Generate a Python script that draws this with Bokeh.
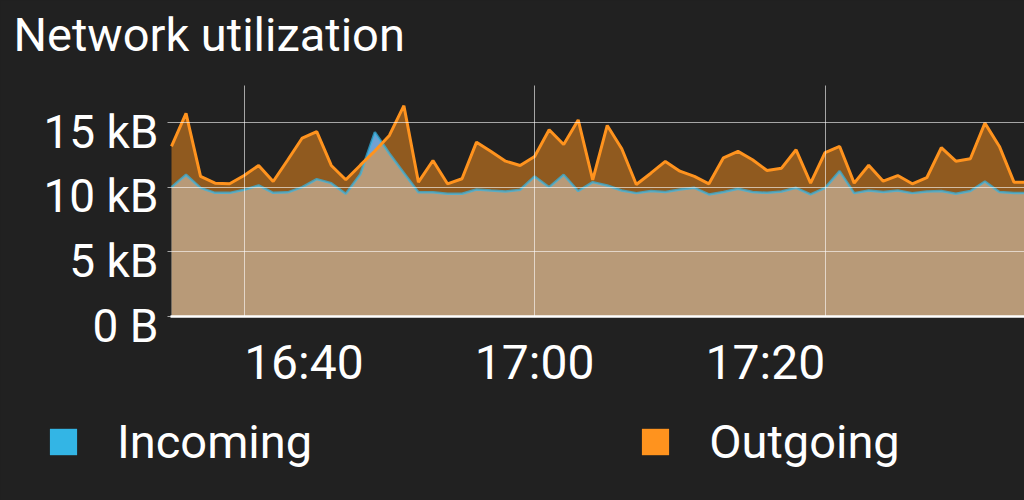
import pandas as pd
from bokeh.plotting import figure
from bokeh.models import (ColumnDataSource, Range1d, FixedTicker, Grid, LabelSet, Label,
                          Legend, LegendItem)
from bokeh.core.properties import value, field
from bokeh.embed import file_html
from bokeh.resources import INLINE

# ---------------- data ----------------
times = pd.date_range("2024-01-01 16:35", periods=60, freq="1min")
incoming_kb = [10.0, 10.96, 9.95, 9.56, 9.56, 9.8, 10.13, 9.56, 9.6, 10.0,
               10.62, 10.31, 9.49, 11.0, 14.25, 12.6, 11.1, 9.6, 9.6, 9.49,
               9.49, 9.82, 9.74, 9.67, 9.8, 10.83, 10.0, 10.96, 9.7, 10.39,
               10.13, 9.74, 9.54, 9.7, 9.62, 9.82, 9.95, 9.44, 9.62, 9.88,
               9.62, 9.56, 9.67, 9.95, 9.44, 9.95, 11.24, 9.54, 9.74, 9.62,
               9.74, 9.54, 9.67, 9.7, 9.49, 9.7, 10.44, 9.62, 9.54, 9.54]
outgoing_kb = [13.15, 15.7, 10.83, 10.31, 10.26, 10.9, 11.68, 10.44, 12.1, 13.8,
               14.3, 11.68, 10.57, 11.7, 12.8, 14.0, 16.3, 10.39, 12.06, 10.26,
               10.65, 13.48, 12.76, 12.01, 11.68, 12.37, 14.44, 13.3, 15.2, 10.57,
               14.77, 12.97, 10.21, 11.08, 11.99, 11.24, 10.83, 10.26, 12.27, 12.77,
               12.12, 11.29, 11.47, 12.89, 10.31, 12.68, 13.15, 10.31, 11.7, 10.46,
               10.9, 10.26, 10.73, 13.05, 12.01, 12.2, 14.95, 13.15, 10.39, 10.39]
y_ticks = [0, 5, 10, 15]
y_tick_labels = ["0 B", "5 kB", "10 kB", "15 kB"]
x_ticks = list(pd.to_datetime(["2024-01-01 16:40", "2024-01-01 17:00", "2024-01-01 17:20"]))
x_tick_labels = ["16:40", "17:00", "17:20"]
x_label_align = ["left", "center", "right"]
series_names = ["Incoming", "Outgoing"]
series_colors = ["#33b5e5", "#ff931e"]
title_text = "Network utilization"

# ---------------- layout / style ----------------
BG = "#212121"
FONT = "Roboto"
TXT = "#ffffff"
W, H = 1024, 500
PLOT_LEFT = 171          # pixel column where the data start
PLOT_TOP = 85            # pixel row where the chart area starts
ZERO_Y = 316             # pixel row of the 0 line
PX_PER_MIN = 14.525
PX_PER_KB = 12.933

def to_ms(t):
    return int((pd.Timestamp(t) - pd.Timestamp("1970-01-01")) // pd.Timedelta("1ms"))

t0 = to_ms(times[0])
ms_per_px = 60000.0 / PX_PER_MIN
x_lo = t0 - PLOT_LEFT * ms_per_px
x_hi = t0 + (W - PLOT_LEFT) * ms_per_px
y_lo = -(H - ZERO_Y) / PX_PER_KB
y_hi = ZERO_Y / PX_PER_KB
y_area_top = (ZERO_Y - PLOT_TOP) / PX_PER_KB

src = ColumnDataSource(dict(t=times, inc=incoming_kb, out=outgoing_kb))

p = figure(width=W, height=H, output_backend="svg", toolbar_location=None,
           x_axis_location=None, y_axis_location=None,
           x_range=Range1d(x_lo, x_hi), y_range=Range1d(y_lo, y_hi),
           min_border=0, background_fill_color=BG, border_fill_color=BG,
           outline_line_color=None)
# drop the default full-canvas grids; bounded ones are added below
p.center = [c for c in p.center if not isinstance(c, Grid)]

# areas and lines
p.varea(x="t", y1=0, y2="inc", source=src, fill_color="#71a1d2", fill_alpha=1.0)
p.varea(x="t", y1=0, y2="out", source=src, fill_color=series_colors[1], fill_alpha=0.5)
p.line(x="t", y="inc", source=src, line_color=series_colors[0], line_width=2.5, line_alpha=0.7)
p.line(x="t", y="out", source=src, line_color=series_colors[1], line_width=3)

# grid lines, bounded to the chart area
xgrid = Grid(dimension=0, ticker=FixedTicker(ticks=[to_ms(t) for t in x_ticks]),
             cross_bounds=(0, y_area_top), grid_line_color="white",
             grid_line_alpha=0.6, grid_line_width=1, level="overlay")
ygrid = Grid(dimension=1, ticker=FixedTicker(ticks=y_ticks),
             cross_bounds=(t0 - 4 * ms_per_px, x_hi), grid_line_color="white",
             grid_line_alpha=0.6, grid_line_width=1, level="overlay")
base = Grid(dimension=1, ticker=FixedTicker(ticks=[0]),
            cross_bounds=(t0 - 1 * ms_per_px, x_hi), grid_line_color="white",
            grid_line_alpha=1.0, grid_line_width=2.5, level="overlay")
for g in (xgrid, ygrid, base):
    p.add_layout(g)

# title
p.add_layout(Label(x=x_lo, y=0, x_offset=13, y_offset=ZERO_Y - 34, text=title_text,
                   text_align="left", text_baseline="middle", text_font=FONT,
                   text_font_size="47px", text_color=TXT))

# tick labels
ylab_src = ColumnDataSource(dict(t=[times[0]] * len(y_ticks), y=y_ticks, text=y_tick_labels))
p.add_layout(LabelSet(x="t", y="y", text="text", source=ylab_src,
                      x_offset=-13, y_offset=-9, text_align="right",
                      text_baseline="middle", text_font=value(FONT),
                      text_font_size="46px", text_color=TXT))
xlab_src = ColumnDataSource(dict(t=x_ticks, y=[0] * len(x_ticks), text=x_tick_labels,
                                 align=x_label_align))
p.add_layout(LabelSet(x="t", y="y", text="text", source=xlab_src,
                      y_offset=-46, text_align=field("align"),
                      text_baseline="middle", text_font=value(FONT),
                      text_font_size="48px", text_color=TXT))

# legend swatches (hidden bars of each series, used only for their legend entry)
leg_r = [p.quad(left="t", right="t", top=col, bottom=0, source=src, fill_color=c,
                line_color=None, visible=False)
         for col, c in zip(["inc", "out"], series_colors)]
legend = Legend(items=[LegendItem(label=n, renderers=[r]) for n, r in zip(series_names, leg_r)],
                orientation="horizontal", location=(46, 31), padding=0, margin=0,
                spacing=326, glyph_width=34, glyph_height=33, label_standoff=37,
                label_text_font=FONT, label_text_font_size="47px",
                label_text_color=TXT, background_fill_alpha=0,
                border_line_color=None)
p.add_layout(legend)

html = file_html(p, INLINE)
html = html.replace("<head>", "<head><style>html,body{background:#212121;}</style>", 1)
open("out.html", "w").write(html)
